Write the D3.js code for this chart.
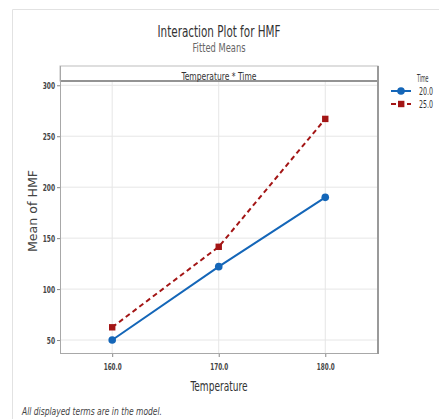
<!DOCTYPE html>
<html>
<head>
<meta charset="utf-8">
<script src="https://cdn.jsdelivr.net/npm/d3@7"></script>
<style>
  html, body { margin: 0; padding: 0; background: #fff; }
  svg { display: block; }
</style>
</head>
<body>
<script>
// Fitted means of HMF by Temperature, one line per Time level
const temperatures = [160, 170, 180];
const timeLevels = ["20.0", "25.0"];
const hmfTime20 = [50, 122, 190];
const hmfTime25 = [62.5, 141.5, 267];
const yTicks = [50, 100, 150, 200, 250, 300];
const xTickLabels = ["160.0", "170.0", "180.0"];

const W = 439, H = 419;
const font = "'DejaVu Sans Condensed', 'DejaVu Sans', sans-serif";

// squeeze a label to a condensed width
function fit(sel, len) {
  return sel.attr("textLength", len).attr("lengthAdjust", "spacingAndGlyphs");
}

const svg = d3.select("body").append("svg")
  .attr("width", W).attr("height", H);

// outer frame
svg.append("path")
  .attr("d", `M12.5,${H} L12.5,9.5 L${W},9.5`)
  .attr("fill", "none").attr("stroke", "#e2e2e2").attr("stroke-width", 1);

const plot = { left: 60, right: 378, top: 81, bottom: 354 };

const x = d3.scaleLinear().domain([155.1, 184.95]).range([plot.left, plot.right]);
const y = d3.scaleLinear().domain([36.3, 304.2]).range([plot.bottom, plot.top]);

// titles
fit(svg.append("text").attr("x", 219).attr("y", 37)
  .attr("text-anchor", "middle").attr("font-family", font)
  .attr("font-size", 15.5).attr("fill", "#333").text("Interaction Plot for HMF"), 123);
fit(svg.append("text").attr("x", 219).attr("y", 52)
  .attr("text-anchor", "middle").attr("font-family", font)
  .attr("font-size", 12).attr("fill", "#666").text("Fitted Means"), 53);

// gridlines
const grid = svg.append("g");
grid.selectAll("line.h").data(yTicks).join("line")
  .attr("x1", plot.left).attr("x2", plot.right)
  .attr("y1", d => y(d)).attr("y2", d => y(d))
  .attr("stroke", "#e6e6e6").attr("stroke-width", 1);
grid.selectAll("line.v").data(temperatures).join("line")
  .attr("y1", plot.top).attr("y2", plot.bottom)
  .attr("x1", d => x(d)).attr("x2", d => x(d))
  .attr("stroke", "#e6e6e6").attr("stroke-width", 1);

// panel header strip
svg.append("rect").attr("x", plot.left).attr("y", 66)
  .attr("width", plot.right - plot.left).attr("height", plot.top - 66)
  .attr("fill", "#fff").attr("stroke", "#bdbdbd").attr("stroke-width", 1);
svg.append("line").attr("x1", plot.left).attr("x2", plot.right)
  .attr("y1", plot.top).attr("y2", plot.top)
  .attr("stroke", "#7a7a7a").attr("stroke-width", 1.5);
fit(svg.append("text").attr("x", 219).attr("y", 79.5)
  .attr("text-anchor", "middle").attr("font-family", font)
  .attr("font-size", 11).attr("fill", "#333").text("Temperature * Time"), 75);

// axes
const yAxis = d3.axisLeft(y).tickValues(yTicks).tickSize(3).tickPadding(2)
  .tickFormat(d3.format("d"));
const gy = svg.append("g").attr("transform", `translate(${plot.left},0)`).call(yAxis);
gy.select(".domain").remove();
gy.selectAll(".tick line").attr("stroke", "#888");
fit(gy.selectAll("text").attr("font-family", font).attr("font-size", 9.5)
  .attr("font-weight", "bold").attr("fill", "#444"), d => String(d).length * 4.1);
svg.append("line").attr("x1", plot.left + 0.5).attr("x2", plot.left + 0.5)
  .attr("y1", 66).attr("y2", plot.bottom)
  .attr("stroke", "#a8a8a8").attr("stroke-width", 1);

const xAxis = d3.axisBottom(x).tickValues(temperatures).tickSize(3).tickPadding(6)
  .tickFormat((d, i) => xTickLabels[i]);
const gx = svg.append("g").attr("transform", `translate(0,${plot.bottom})`).call(xAxis);
gx.select(".domain").remove();
gx.selectAll(".tick line").attr("stroke", "#888");
fit(gx.selectAll("text").attr("font-family", font).attr("font-size", 9.5)
  .attr("font-weight", "bold").attr("fill", "#444"), 18);
svg.append("line").attr("x1", plot.left).attr("x2", plot.right)
  .attr("y1", plot.bottom - 0.5).attr("y2", plot.bottom - 0.5)
  .attr("stroke", "#a8a8a8").attr("stroke-width", 1.2);
svg.append("line").attr("x1", plot.right).attr("x2", plot.right)
  .attr("y1", 66).attr("y2", plot.bottom)
  .attr("stroke", "#9a9a9a").attr("stroke-width", 2);

// axis titles
fit(svg.append("text").attr("x", 219).attr("y", 391)
  .attr("text-anchor", "middle").attr("font-family", font)
  .attr("font-size", 14).attr("fill", "#333").text("Temperature"), 57);
fit(svg.append("text")
  .attr("transform", "translate(37,211) rotate(-90)")
  .attr("text-anchor", "middle").attr("font-family", "'DejaVu Sans', sans-serif")
  .attr("font-size", 11.5).attr("fill", "#444").text("Mean of HMF"), 82);

// series
const blue = "#1466b8", red = "#a31515";
const series = [
  { level: timeLevels[0], values: hmfTime20, color: blue, dash: null, shape: "circle" },
  { level: timeLevels[1], values: hmfTime25, color: red, dash: "5,3.5", shape: "square" }
];
const line = d3.line().x((d, i) => x(temperatures[i])).y(d => y(d));

series.forEach(s => {
  svg.append("path").attr("d", line(s.values))
    .attr("fill", "none").attr("stroke", s.color).attr("stroke-width", 2)
    .attr("stroke-dasharray", s.dash);
  const g = svg.append("g");
  if (s.shape === "circle") {
    g.selectAll("circle").data(s.values).join("circle")
      .attr("cx", (d, i) => x(temperatures[i])).attr("cy", d => y(d))
      .attr("r", 3.8).attr("fill", s.color);
  } else {
    g.selectAll("rect").data(s.values).join("rect")
      .attr("x", (d, i) => x(temperatures[i]) - 3.2).attr("y", d => y(d) - 3.2)
      .attr("width", 6.4).attr("height", 6.4).attr("fill", s.color);
  }
});

// legend
const legend = svg.append("g");
fit(legend.append("text").attr("x", 417).attr("y", 82)
  .attr("font-family", font).attr("font-size", 10).attr("fill", "#333").text("Time"), 11.5);
series.forEach((s, i) => {
  const ly = 91 + i * 13;
  legend.append("line").attr("x1", 391).attr("x2", 411).attr("y1", ly).attr("y2", ly)
    .attr("stroke", s.color).attr("stroke-width", 2).attr("stroke-dasharray", s.dash ? "5,3" : null);
  if (s.shape === "circle") {
    legend.append("circle").attr("cx", 401).attr("cy", ly).attr("r", 3.8).attr("fill", s.color);
  } else {
    legend.append("rect").attr("x", 398).attr("y", ly - 3.2).attr("width", 6.4).attr("height", 6.4)
      .attr("fill", s.color);
  }
  fit(legend.append("text").attr("x", 419).attr("y", ly + 3.5)
    .attr("font-family", font).attr("font-size", 10).attr("fill", "#333").text(s.level), 14);
});

// footnote
fit(svg.append("text").attr("x", 22).attr("y", 415)
  .attr("font-family", font).attr("font-style", "italic")
  .attr("font-size", 11).attr("fill", "#444").text("All displayed terms are in the model."), 140);
</script>
</body>
</html>
